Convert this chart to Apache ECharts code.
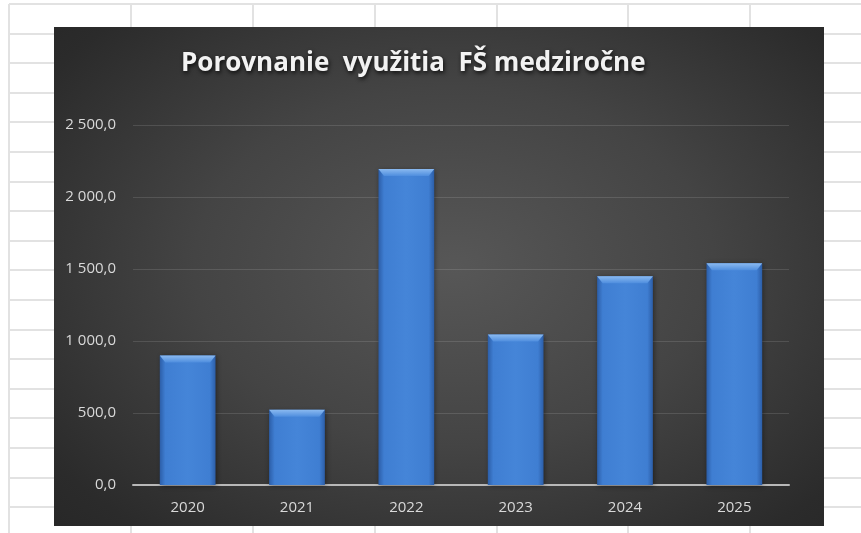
<!DOCTYPE html>
<html>
<head>
<meta charset="utf-8">
<script src="https://cdn.jsdelivr.net/npm/echarts@6/dist/echarts.min.js"></script>
<style>
html, body { margin: 0; padding: 0; background: #fff; }
#sheet { position: absolute; left: 0; top: 0; width: 861px; height: 533px; overflow: hidden; }
#sheet .h { position: absolute; left: 9px; right: 0; height: 2px; background: #e2e2e2; }
#sheet .v { position: absolute; top: 4px; bottom: 0; width: 2px; background: #e2e2e2; }
#chart {
	position: absolute; left: 54px; top: 27px; width: 770px; height: 499px;
	background: radial-gradient(ellipse 75% 80% at 52% 48%, #575757 0%, #444 45%, #2b2b2b 85%, #262626 100%);
}
</style>
</head>
<body>
<div id="sheet"></div>
<div id="chart"></div>
<script>
// data
const years = ['2020', '2021', '2022', '2023', '2024', '2025'];
const values = [900, 523, 2195, 1045, 1450, 1540];
const yTicks = { min: 0, max: 2500, step: 500 };

// spreadsheet grid behind the chart
const sheet = document.getElementById('sheet');
for (let i = 0; i < 19; i++) {
	const d = document.createElement('div');
	d.className = 'h';
	d.style.top = (3 + i * 29.6) + 'px';
	sheet.appendChild(d);
}
[8, 130, 252, 374, 496, 627, 749].forEach(x => {
	const d = document.createElement('div');
	d.className = 'v';
	d.style.left = x + 'px';
	sheet.appendChild(d);
});

function fmt(v) {
	return v.toFixed(1).replace('.', ',').replace(/\B(?=(\d{3})+(?!\d))/g, ' ');
}

const myChart = echarts.init(document.getElementById('chart'));
const option = {
	animation: false,
	title: {
		text: 'Porovnanie  využitia  FŠ medziročne',
		left: 122,
		top: 19,
		textStyle: {
			fontFamily: 'Open Sans',
			fontWeight: 'bold',
			fontSize: 26,
			color: '#f2f2f2',
			textShadowColor: 'rgba(0,0,0,0.8)',
			textShadowBlur: 4,
			textShadowOffsetX: 1,
			textShadowOffsetY: 2,
		},
	},
	grid: {
		left: 79,
		right: 35,
		top: 98,
		bottom: 41,
	},
	xAxis: {
		type: 'category',
		data: years,
		axisTick: { show: false },
		axisLine: { lineStyle: { color: '#b8b8b8', width: 2 } },
		axisLabel: {
			color: '#d9d9d9',
			fontFamily: 'Open Sans',
			fontSize: 15,
			margin: 15,
		},
	},
	yAxis: {
		type: 'value',
		min: yTicks.min,
		max: yTicks.max,
		interval: yTicks.step,
		axisLine: { show: false },
		axisTick: { show: false },
		splitLine: { lineStyle: { color: 'rgba(255,255,255,0.12)', width: 1 } },
		axisLabel: {
			color: '#d9d9d9',
			fontFamily: 'Open Sans',
			fontSize: 15,
			margin: 17,
			formatter: fmt,
		},
	},
	series: [
		{
			type: 'bar',
			data: values,
			barWidth: '51%',
			itemStyle: {
				color: new echarts.graphic.LinearGradient(0, 0, 1, 0, [
					{ offset: 0, color: '#2c5ea8' },
					{ offset: 0.1, color: '#3f7ed2' },
					{ offset: 0.5, color: '#4585d8' },
					{ offset: 0.9, color: '#3f7ed2' },
					{ offset: 1, color: '#2c5ea8' },
				]),
				shadowColor: 'rgba(0,0,0,0.45)',
				shadowBlur: 5,
				shadowOffsetX: 1,
				shadowOffsetY: 1,
			},
		},
		{
			// bevelled top of each bar
			type: 'pictorialBar',
			data: values,
			barWidth: '51%',
			symbol: 'path://M0,0 L100,0 L90,10 L10,10 Z',
			symbolSize: ['100%', 7],
			symbolPosition: 'end',
			itemStyle: {
				color: new echarts.graphic.LinearGradient(0, 0, 0, 1, [
					{ offset: 0, color: '#8bbaf0' },
					{ offset: 1, color: '#4f8ede' },
				]),
			},
			z: 3,
		},
	],
};
myChart.setOption(option);
</script>
</body>
</html>
